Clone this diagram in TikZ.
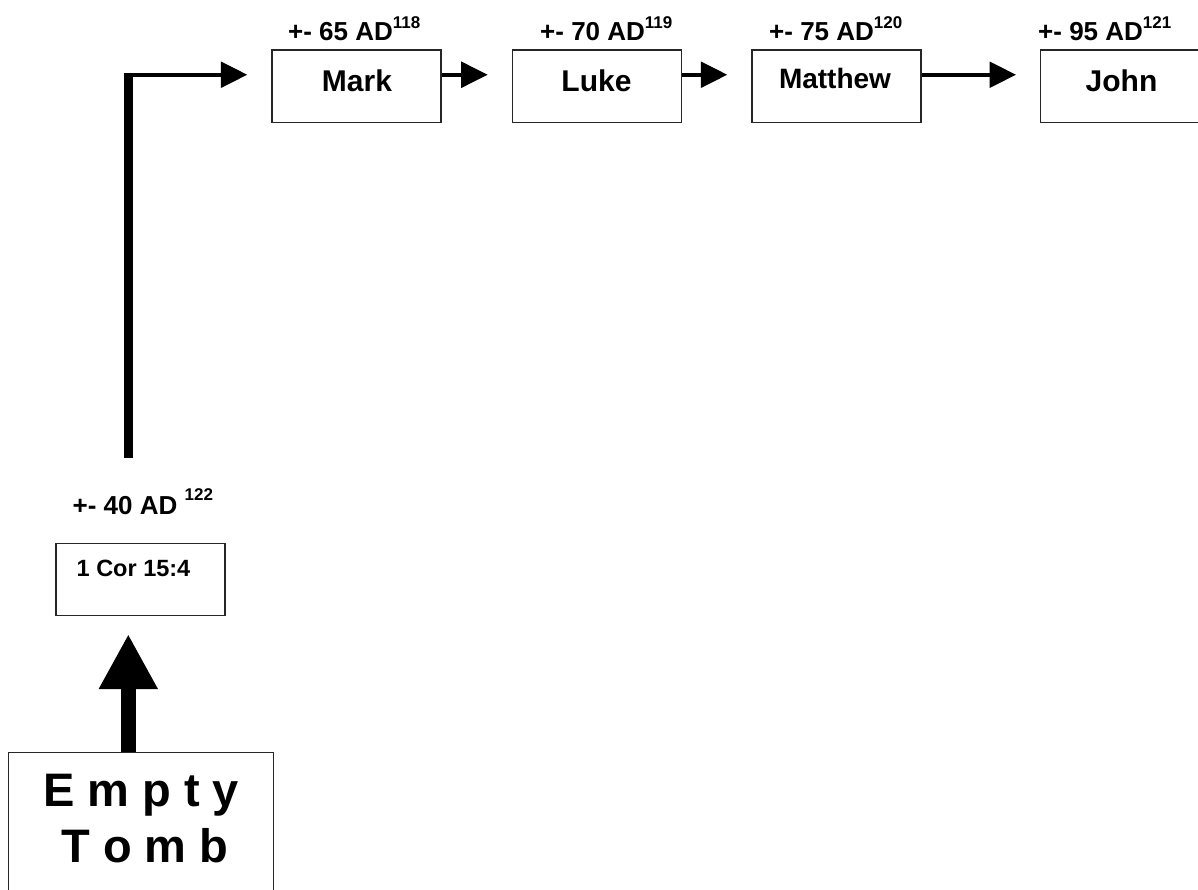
\documentclass[tikz,border=0pt]{standalone}
\usepackage{fontspec}
\setmainfont{Liberation Sans}
\usetikzlibrary{arrows.meta}
\newcommand{\supnum}[2][12.7pt]{\raisebox{#1}{\fontsize{17}{17}\selectfont #2}}
\begin{document}
\begin{tikzpicture}[x=1pt,y=-1pt,
  box/.style={draw=black!85, line width=1.3pt, minimum width=169pt, minimum height=72.5pt, inner sep=0pt},
  boxtxt/.style={anchor=base, inner sep=0pt, font=\fontsize{30}{36}\selectfont\bfseries},
  datelbl/.style={anchor=base west, inner sep=0pt, font=\fontsize{26}{30}\selectfont\bfseries},
  arr/.style={line width=4pt, -{Triangle[length=26.5pt,width=25.5pt]}, shorten >=24pt},
  thickline/.style={line width=9pt},
  bigarr/.style={line width=15pt, -{Triangle[length=55pt,width=55pt]}, shorten >=17.6pt},
  tombtxt/.style={anchor=base, inner sep=0pt, font=\fontsize{47}{56}\selectfont\bfseries}
]
\fill[white] (0,0) rectangle (1198,890);
\clip (0,0) rectangle (1198,890);

% gospel boxes
\node[box] (mark) at (356.5,86.35) {};
\node[box] (luke) at (596.85,86.35) {};
\node[box] (matt) at (836.5,86.35) {};
\node[box] (john) at (1125.2,86.35) {};
\node[boxtxt] (marktxt) at (357,92) {Mark};
\node[boxtxt] (luketxt) at (596.5,92) {Luke};
\node[boxtxt, font=\fontsize{28}{34}\selectfont\bfseries] (matttxt) at (835,88.5) {Matthew};
\node[boxtxt] (johntxt) at (1121.5,92) {John};

% date labels
\node[datelbl] (markdate) at (288,41) {+- 65 AD\supnum{118}};
\node[datelbl] (lukedate) at (540,41) {+- 70 AD\supnum{119}};
\node[datelbl] (mattdate) at (769,41) {+- 75 AD\supnum{120}};
\node[datelbl] (johndate) at (1038,41) {+- 95 AD\supnum{121}};

% 1 Cor box
\node[box] (cor) at (140.5,579.5) {};
\node[anchor=base west, inner sep=0pt, font=\fontsize{23.5}{28}\selectfont\bfseries] (cortxt) at (76.5,576.7) {1 Cor 15:4};
\node[datelbl] (cordate) at (72.5,514) {+- 40 AD \supnum[14pt]{122}};

% empty tomb
\node[box, minimum width=265pt, minimum height=260pt] (tomb) at (140.8,882.3) {};
\node[tombtxt] (tombtxta) at (141,806.7) {E m p t y};
\node[tombtxt] (tombtxtb) at (145,862.7) {T o m b};

% connectors
\coordinate (vstart) at (128,458);
\coordinate (markin) at ([yshift=11.6pt]mark.west);
\draw[thickline] (vstart) -- ([yshift=2pt]vstart |- markin);
\draw[arr] ([xshift=-4.5pt]vstart |- markin) -- (markin);
\draw[arr] ([yshift=11.6pt]mark.east) -- ([yshift=11.6pt]luke.west);
\draw[arr] ([yshift=11.6pt]luke.east) -- ([yshift=11.6pt]matt.west);
\draw[arr] ([yshift=11.6pt]matt.east) -- ([yshift=11.6pt]john.west);
\coordinate (tombout) at ([xshift=-12.5pt]tomb.north);
\draw[bigarr] (tombout) -- (tombout |- cor.south);
\end{tikzpicture}
\end{document}
